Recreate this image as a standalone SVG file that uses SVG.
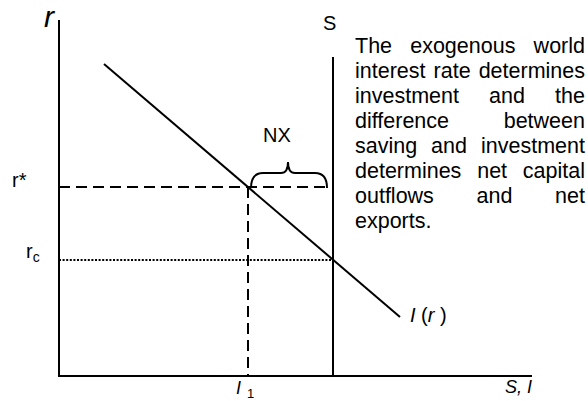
<svg xmlns="http://www.w3.org/2000/svg" width="588" height="401" viewBox="0 0 588 401">
<style>
.ln{stroke:#000;stroke-width:2;fill:none}
.dash{stroke:#000;stroke-width:2;fill:none;stroke-dasharray:11 6}
.dot{stroke:#000;stroke-width:2;fill:none;stroke-dasharray:2 1.6}
text{font-family:"Liberation Sans",Arial,sans-serif;fill:#000}
.p{font-size:21.5px}
.lab{font-size:20px}
.it{font-style:italic}
</style>
<rect width="588" height="401" fill="#fff"/>
<g id="axes">
<line class="ln" x1="59" y1="20" x2="59" y2="377"/>
<line class="ln" x1="58" y1="376" x2="532" y2="376"/>
<text x="44" y="27" class="it" font-size="30">r</text>
<text x="505" y="393" class="it" font-size="18">S, I</text>
</g>
<g id="curves">
<line id="I-curve" class="ln" x1="104" y1="64" x2="400" y2="317"/>
<line id="S-line" class="ln" x1="333" y1="57" x2="333" y2="376"/>
<path id="rstar" class="dash" d="M59,187 H327"/>
<path id="I1" class="dash" d="M248,187 V376"/>
<path id="rc" class="dot" d="M59,260 H333"/>
<path id="brace" class="ln" d="M251,188 Q251,173 263,173 L281,173 Q288,173 288,162 Q288,173 295,173 L315,173 Q327,173 327,188"/>
</g>
<g id="labels">
<text x="323" y="30" class="lab">S</text>
<text x="263" y="142" class="lab">NX</text>
<text x="12" y="187" class="lab">r*</text>
<text x="26" y="258" class="lab">r<tspan font-size="14" dy="4">c</tspan></text>
<text x="410" y="322" class="lab"><tspan class="it">I</tspan> (<tspan class="it">r</tspan> )</text>
<text x="236" y="394" class="it" font-size="18">I</text>
<text x="247" y="398" font-size="13">1</text>
</g>
<g id="note" class="p">
<text x="355" y="53">The</text><text x="410.2" y="53">exogenous</text><text x="585" y="53" text-anchor="end">world</text>
<text x="355" y="78">interest</text><text x="433.6" y="78">rate</text><text x="585" y="78" text-anchor="end">determines</text>
<text x="355" y="103">investment</text><text x="489.1" y="103">and</text><text x="585" y="103" text-anchor="end">the</text>
<text x="355" y="128">difference</text><text x="585" y="128" text-anchor="end">between</text>
<text x="355" y="153">saving</text><text x="431" y="153">and</text><text x="585" y="153" text-anchor="end">investment</text>
<text x="355" y="178">determines</text><text x="477.2" y="178">net</text><text x="585" y="178" text-anchor="end">capital</text>
<text x="355" y="203">outflows</text><text x="476.5" y="203">and</text><text x="585" y="203" text-anchor="end">net</text>
<text x="355" y="228">exports.</text>
</g>
</svg>
